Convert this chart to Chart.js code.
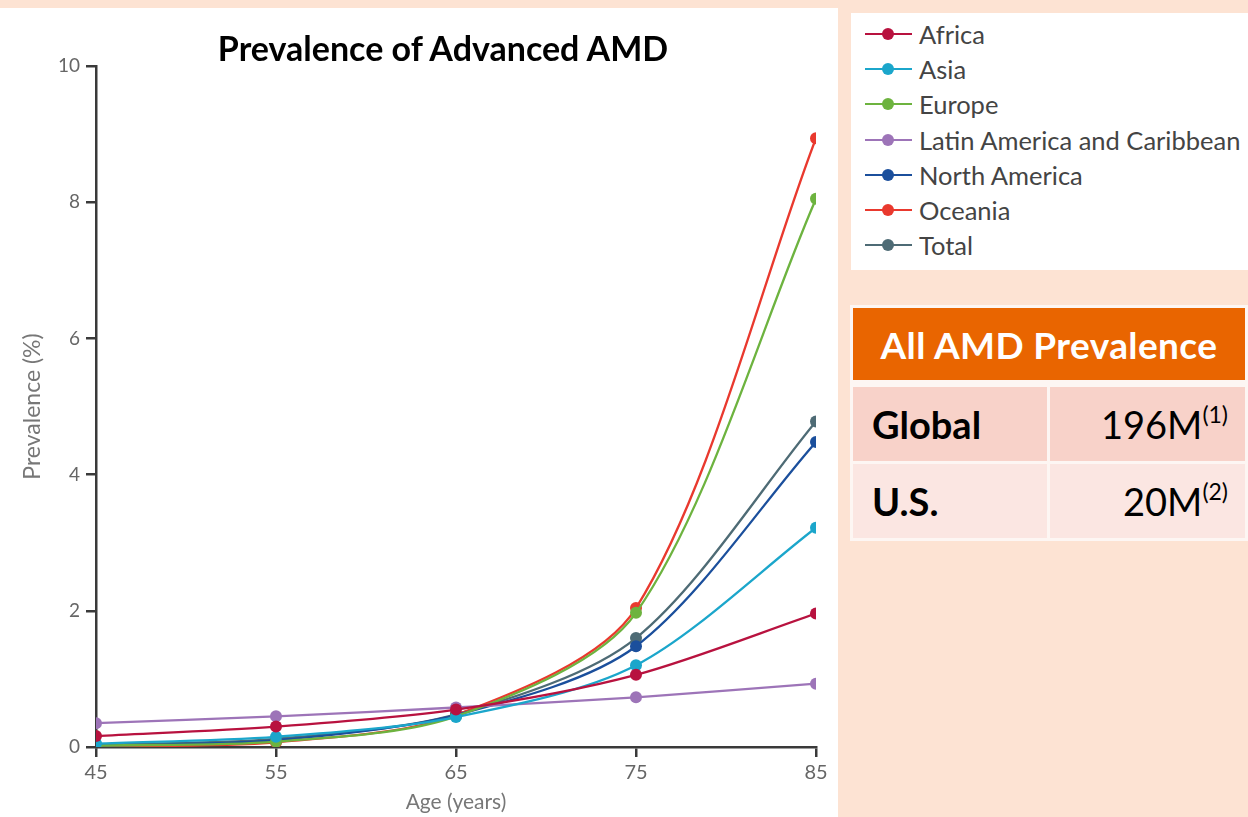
<!DOCTYPE html>
<html>
<head>
<meta charset="utf-8">
<script src="https://cdn.jsdelivr.net/npm/chart.js@4/dist/chart.umd.min.js"></script>
<style>
  html, body { margin: 0; padding: 0; }
  body { width: 1248px; height: 817px; background: #fde3d3; position: relative; overflow: hidden; font-family: Lato, "Open Sans", sans-serif; }
  #panel { position: absolute; left: 0; top: 8px; width: 838px; height: 809px; background: #ffffff; }
  #title { position: absolute; left: 0; top: 8px; width: 886px; text-align: center; font: bold 34px Lato, sans-serif; color: #000; line-height: 80px; }
  #legend { position: absolute; left: 851px; top: 13px; width: 397px; height: 257px; background: #ffffff; }
  .item { position: absolute; left: 14px; height: 30px; display: flex; align-items: center; }
  .swatch { position: relative; width: 47px; height: 30px; margin-right: 7px; }
  .swatch .ln { position: absolute; left: 0; top: 14px; width: 47px; height: 2px; }
  .swatch .dt { position: absolute; left: 17px; top: 9px; width: 12px; height: 12px; border-radius: 50%; }
  .item span { font: 25.5px Lato, sans-serif; color: #444; white-space: nowrap; }
  #tbl { position: absolute; left: 850px; top: 305px; border-collapse: separate; border-spacing: 3px; width: 398px; table-layout: fixed; margin: 0; background: #fdf6f3; }
  #tbl th { background: #e96500; color: #fff; font: bold 37px Lato, sans-serif; letter-spacing: 0.4px; height: 72px; padding: 0; text-align: center; border-bottom: 4px solid #fdf6f3; box-sizing: content-box; }
  #tbl td { font: 38px Lato, sans-serif; height: 74px; padding: 0 16px 0 19px; color: #000; box-sizing: border-box; }
  #tbl td.k { font-weight: bold; text-align: left; }
  #tbl td.v { text-align: right; padding-right: 17px; }
  #tbl tr.r1 td { background: #f8d2c9; }
  #tbl tr.r2 td { background: #fbe6e2; }
  sup { font-size: 23px; vertical-align: 16px; line-height: 0; }
</style>
</head>
<body>
<div id="panel"><canvas id="c" width="838" height="809"></canvas></div>
<div id="title">Prevalence of Advanced AMD</div>
<div id="legend"></div>
<table id="tbl">
  <colgroup><col style="width:194px"><col style="width:195px"></colgroup>
  <tr><th colspan="2">All AMD Prevalence</th></tr>
  <tr class="r1"><td class="k">Global</td><td class="v">196M<sup>(1)</sup></td></tr>
  <tr class="r2"><td class="k">U.S.</td><td class="v">20M<sup>(2)</sup></td></tr>
</table>
<script>
// Age groups (years) and prevalence of advanced AMD (%) by region
const ages = [45, 55, 65, 75, 85];
const regions = ["Africa", "Asia", "Europe", "Latin America and Caribbean", "North America", "Oceania", "Total"];
const africa        = [0.16, 0.30, 0.55, 1.06, 1.96];
const asia          = [0.05, 0.15, 0.44, 1.20, 3.22];
const europe        = [0.02, 0.08, 0.45, 1.97, 8.05];
const latinAmerica  = [0.35, 0.45, 0.58, 0.73, 0.93];
const northAmerica  = [0.02, 0.10, 0.47, 1.48, 4.48];
const oceania       = [0.01, 0.07, 0.47, 2.04, 8.94];
const total         = [0.03, 0.12, 0.48, 1.60, 4.78];
const yTicks = [0, 2, 4, 6, 8, 10];

const seriesValues = [africa, asia, europe, latinAmerica, northAmerica, oceania, total];
const colors = ["#b8123f", "#1ba6cb", "#6db33f", "#9d74b8", "#1b4f9c", "#e9392e", "#4e6b75"];

const datasets = regions.map((name, i) => ({
  label: name,
  data: ages.map((a, j) => ({ x: a, y: seriesValues[i][j] })),
  borderColor: colors[i],
  backgroundColor: colors[i],
  borderWidth: 2.3,
  pointRadius: 6,
  pointHoverRadius: 6,
  pointBorderWidth: 0,
  tension: 0.3
}));

const axisColor = '#3a3a3a';

new Chart(document.getElementById('c'), {
  type: 'line',
  data: { datasets },
  options: {
    responsive: false,
    animation: false,
    devicePixelRatio: 1,
    layout: { padding: { top: 58, right: 22, left: 0, bottom: 0 } },
    plugins: { legend: { display: false }, tooltip: { enabled: false }, title: { display: false } },
    scales: {
      x: {
        type: 'linear', min: 45, max: 85,
        afterBuildTicks: s => { s.ticks = ages.map(v => ({ value: v })); },
        afterFit: s => { s.height = 70; },
        grid: { display: true, drawOnChartArea: false, drawTicks: true, tickLength: 10, color: axisColor, lineWidth: 2.5 },
        border: { display: true, color: axisColor, width: 2.5 },
        ticks: { color: '#666', font: { family: 'Lato, sans-serif', size: 20 }, padding: 4 },
        title: { display: true, text: 'Age (years)', color: '#777', font: { family: 'Lato, sans-serif', size: 21 }, padding: { top: 0, bottom: 2 } }
      },
      y: {
        min: 0, max: 10,
        afterBuildTicks: s => { s.ticks = yTicks.map(v => ({ value: v })); },
        afterFit: s => { s.width = 96; },
        grid: { display: true, drawOnChartArea: false, drawTicks: true, tickLength: 10, color: axisColor, lineWidth: 2.5 },
        border: { display: true, color: axisColor, width: 2.5 },
        ticks: { color: '#666', font: { family: 'Lato, sans-serif', size: 19 }, padding: 6 },
        title: { display: true, text: 'Prevalence (%)', color: '#777', font: { family: 'Lato, sans-serif', size: 23 }, padding: { top: 19, bottom: 0 } }
      }
    }
  }
});

// Legend built from the same series names and colours
const legend = document.getElementById('legend');
regions.forEach((name, i) => {
  const row = document.createElement('div');
  row.className = 'item';
  row.style.top = (6 + i * 35.2) + 'px';
  row.innerHTML = '<div class="swatch"><div class="ln" style="background:' + colors[i] + '"></div><div class="dt" style="background:' + colors[i] + '"></div></div><span>' + name + '</span>';
  legend.appendChild(row);
});
</script>
</body>
</html>
